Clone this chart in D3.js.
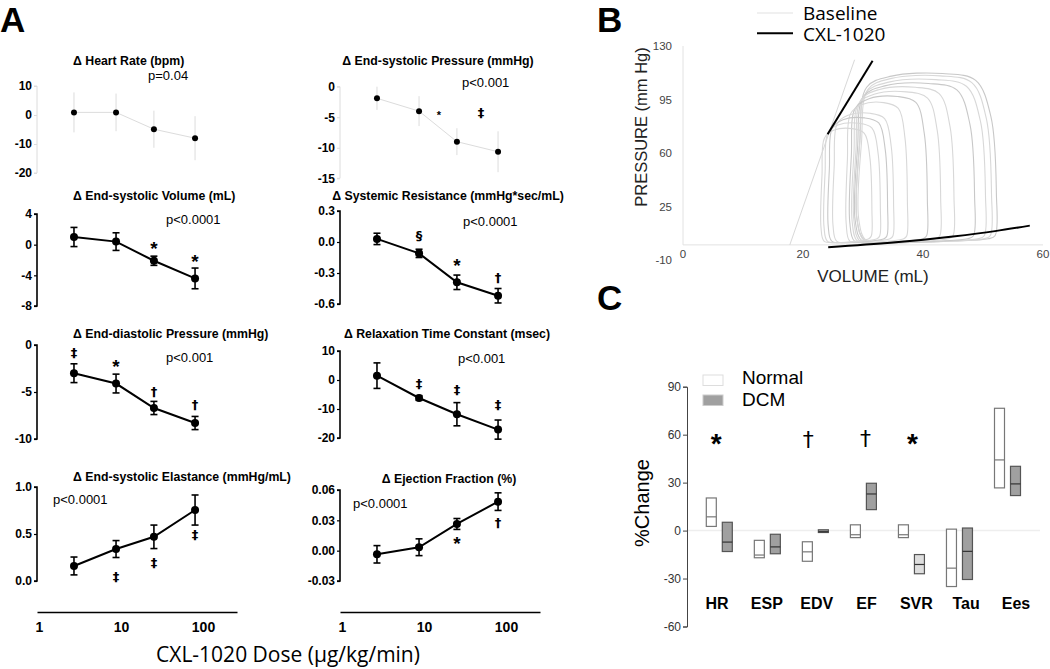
<!DOCTYPE html>
<html><head><meta charset="utf-8">
<script src="https://cdn.jsdelivr.net/npm/d3@7"></script>
<style>body{margin:0;background:#fff} svg{display:block}</style>
</head><body><svg id="c" width="1050" height="669"></svg>
<script>
// ---------- DATA: Panel A ----------
const doses = [2.67, 8.7, 25.2, 80];
const doseTicks = [1, 10, 100];
const hrMean = [0.9, 0.9, -4.9, -8.0],        hrErr = [6.9, 6.5, 6.4, 7.6];
const espMean = [-1.9, -4.0, -9.0, -10.65],   espErr = [1.9, 2.45, 2.2, 3.35];
const esvMean = [1.0, 0.4, -2.1, -4.4],       esvErr = [1.25, 1.15, 0.6, 1.35];
const svrMean = [0.03, -0.11, -0.39, -0.52],  svrErr = [0.055, 0.04, 0.07, 0.07];
const edpMean = [-3.0, -4.1, -6.7, -8.3],     edpErr = [1.0, 1.0, 0.7, 0.7];
const tauMean = [1.5, -6.2, -11.8, -17.1],    tauErr = [4.4, 0.8, 4.0, 3.3];
const eesMean = [0.16, 0.34, 0.47, 0.755],    eesErr = [0.095, 0.09, 0.125, 0.16];
const efMean = [-0.0036, 0.0034, 0.0264, 0.0485], efErr = [0.0086, 0.0083, 0.0054, 0.0087];

const hrTicks = [10, 0, -10, -20];
const espTicks = [0, -5, -10, -15];
const esvTicks = [4, 0, -4, -8];
const svrTicks = [0.3, 0, -0.3, -0.6];
const edpTicks = [0, -5, -10];
const tauTicks = [10, 0, -10, -20];
const eesTicks = [1, 0.5, 0];
const efTicks = [0.06, 0.03, 0, -0.03];

const espMarks = [{d: 15.2, v: -4.3, s: "*"}, {d: 49.6, v: -4.3, s: "‡"}];
const esvMarks = [{d: 25.2, v: 0.1, s: "*"}, {d: 80, v: -1.65, s: "*"}];
const svrMarks = [{d: 8.7, v: 0.058, s: "§"}, {d: 25.2, v: -0.19, s: "*"}, {d: 80, v: -0.35, s: "†"}];
const edpMarks = [{d: 2.67, v: -0.82, s: "‡"}, {d: 8.7, v: -1.78, s: "*"}, {d: 25.2, v: -4.97, s: "†"}, {d: 80, v: -6.38, s: "†"}];
const tauMarks = [{d: 8.7, v: -1.5, s: "‡"}, {d: 25.2, v: -3.45, s: "‡"}, {d: 80, v: -8.6, s: "‡"}];
const eesMarks = [{d: 8.7, v: 0.046, s: "‡"}, {d: 25.2, v: 0.195, s: "‡"}, {d: 80, v: 0.49, s: "‡"}];
const efMarks = [{d: 25.2, v: 0.0109, s: "*"}, {d: 80, v: 0.0274, s: "†"}];

// ---------- DATA: Panel B (PV loops) ----------
const loopESV  = [29.0, 29.3, 29.0, 28.7, 28.5, 28.2, 27.8, 27.2, 25.0, 24.2, 23.5, 23.0];
const loopEDV  = [52.0, 51.2, 50.2, 48.4, 45.0, 42.8, 40.6, 37.3, 35.0, 34.0, 32.8, 31.4];
const loopPeak = [112, 110.5, 108, 105.5, 103, 100, 97, 93, 86, 83, 79.5, 76];
const espvrCXL = [[24.1, 72.3], [31.6, 120.4]];
const espvrBase = [[17.8, 0], [28.6, 121]];
const edpvrCXL = [[24.2, -1.5], [35, 1.5], [45, 5.5], [52, 9], [57.8, 12.6]];
const volTicks = [0, 20, 40, 60];
const presTicks = [130, 95, 60, 25, -10];

// ---------- DATA: Panel C ----------
const cats = ["HR", "ESP", "EDV", "EF", "SVR", "Tau", "Ees"];
const normLo  = [2.6, -17.0, -19.2, -4.4, -4.4, -35.0, 26.7];
const normMed = [8.6, -15.3, -13.3, -2.6, -2.6, -23.5, 44.2];
const normHi  = [20.4, -6.1, -7.0, 3.6, 3.6, 0.9, 76.5];
const dcmLo   = [-13.1, -14.5, -1.2, 13.1, -27.0, -30.6, 21.9];
const dcmMed  = [-7.2, -10.2, -0.7, 22.9, -21.2, -13.0, 29.2];
const dcmHi   = [5.2, -2.3, 0.5, 29.6, -15.0, 1.6, 40.2];
const pctTicks = [90, 60, 30, 0, -30, -60];
const cMarks = [{c: "HR", v: 58.3, s: "*"}, {c: "EDV", v: 56.3, s: "†"}, {c: "EF", v: 57.3, s: "†"}, {c: "SVR", v: 58.3, s: "*"}];

// ---------- DRAW ----------
const svg = d3.select("#c");
const ARIAL = "'Liberation Sans', Arial, sans-serif";
const SEGOE = "'Open Sans', 'Liberation Sans', sans-serif";
const SYM = "'DejaVu Sans', sans-serif";
const fmtMinus = f => v => d3.format(f)(v).replace("\u2212", "-");

// panel letters
[["A", 0, 32], ["B", 597, 32], ["C", 597, 310]].forEach(([t, x, y]) =>
  svg.append("text").attr("x", x).attr("y", y).attr("font-family", ARIAL)
     .attr("font-weight", 700).attr("font-size", 35).text(t));

// Panel A
const colAxis = {L: 37, R: 340};
const xFor = col => d3.scaleLog().domain([Math.pow(10, -2/82), Math.pow(10, 198/82)]).range([colAxis[col], colAxis[col] + 200]);
const glyphOff = {"*": 0.57, "†": 0.3, "‡": 0.3, "§": 0.33};

const panels = [
  {t: "Heart Rate (bpm)", m: hrMean, e: hrErr, ticks: hrTicks, f: "d", dom: [-20, 10], rng: [173, 86], col: "L", light: true,
   tx: 73, ty: 61, anchor: "start", p: "p=0.04", px: 148, py: 75, marks: []},
  {t: "End-systolic Pressure (mmHg)", m: espMean, e: espErr, ticks: espTicks, f: "d", dom: [-15, 0], rng: [178.3, 86.7], col: "R", light: true,
   tx: 438, ty: 61, anchor: "middle", p: "p<0.001", px: 462, py: 82, marks: espMarks, small: true},
  {t: "End-systolic Volume (mL)", m: esvMean, e: esvErr, ticks: esvTicks, f: "d", dom: [-8, 4], rng: [306, 214], col: "L",
   tx: 73, ty: 196, anchor: "start", p: "p<0.0001", px: 166, py: 219, marks: esvMarks},
  {t: "Systemic Resistance (mmHg*sec/mL)", m: svrMean, e: svrErr, ticks: svrTicks, f: ".1f", dom: [-0.6, 0.3], rng: [304, 211], col: "R",
   tx: 448, ty: 196, anchor: "middle", p: "p<0.0001", px: 463, py: 221, marks: svrMarks},
  {t: "End-diastolic Pressure (mmHg)", m: edpMean, e: edpErr, ticks: edpTicks, f: "d", dom: [-10, 0], rng: [439, 345], col: "L",
   tx: 73, ty: 334, anchor: "start", p: "p<0.001", px: 166, py: 357, marks: edpMarks},
  {t: "Relaxation Time Constant (msec)", m: tauMean, e: tauErr, ticks: tauTicks, f: "d", dom: [-20, 10], rng: [438, 351], col: "R",
   tx: 447, ty: 334, anchor: "middle", p: "p<0.001", px: 458, py: 358, marks: tauMarks},
  {t: "End-systolic Elastance (mmHg/mL)", m: eesMean, e: eesErr, ticks: eesTicks, f: ".1f", dom: [0, 1], rng: [581, 487], col: "L",
   tx: 73, ty: 477, anchor: "start", p: "p<0.0001", px: 53, py: 499, marks: eesMarks},
  {t: "Ejection Fraction (%)", m: efMean, e: efErr, ticks: efTicks, f: ".2f", dom: [-0.03, 0.06], rng: [581, 490], col: "R",
   tx: 449, ty: 479, anchor: "middle", p: "p<0.0001", px: 353, py: 503, marks: efMarks},
];

panels.forEach(P => {
  const g = svg.append("g");
  const x = xFor(P.col);
  const y = d3.scaleLinear().domain(P.dom).range(P.rng);
  const ax = colAxis[P.col];
  const lineCol = P.light ? "#dcdcdc" : "#000";
  g.append("text").attr("x", P.tx).attr("y", P.ty).attr("dy", "0.35em").attr("text-anchor", P.anchor)
    .attr("font-family", ARIAL).attr("font-weight", 700).attr("font-size", 12.3).text("\u0394 " + P.t);
  const yAxis = d3.axisLeft(y).tickValues(P.ticks).tickSize(3).tickPadding(2).tickFormat(fmtMinus(P.f));
  const ag = g.append("g").attr("transform", `translate(${ax},0)`).call(yAxis);
  ag.select(".domain").attr("stroke", lineCol).attr("stroke-width", P.light ? 1 : 1.6).attr("d", `M-3,${P.rng[1]}H0V${P.rng[0]}H-3`);
  ag.selectAll(".tick line").attr("stroke", lineCol).attr("stroke-width", P.light ? 1 : 1.2);
  ag.selectAll(".tick text").attr("font-family", ARIAL).attr("font-weight", 700).attr("font-size", 12).attr("fill", "#000");
  g.append("text").attr("x", P.px).attr("y", P.py).attr("dy", "0.35em").attr("font-family", ARIAL)
    .attr("font-size", 13).text(P.p);
  const capW = P.light ? 0 : 3.5;
  const ew = P.light ? 1 : 1.6;
  doses.forEach((d, i) => {
    const cx = x(d), y1 = y(P.m[i] + P.e[i]), y2 = y(P.m[i] - P.e[i]);
    g.append("line").attr("x1", cx).attr("x2", cx).attr("y1", y1).attr("y2", y2).attr("stroke", lineCol).attr("stroke-width", ew);
    if (capW) {
      [y1, y2].forEach(yy => g.append("line").attr("x1", cx - capW).attr("x2", cx + capW).attr("y1", yy).attr("y2", yy)
        .attr("stroke", lineCol).attr("stroke-width", ew));
    }
  });
  g.append("path").datum(doses.map((d, i) => [d, P.m[i]]))
    .attr("d", d3.line().x(d => x(d[0])).y(d => y(d[1])))
    .attr("fill", "none").attr("stroke", lineCol).attr("stroke-width", P.light ? 1 : 2);
  g.selectAll("circle.pt").data(doses).enter().append("circle")
    .attr("cx", d => x(d)).attr("cy", (d, i) => y(P.m[i])).attr("r", P.light ? 3 : 4).attr("fill", "#000");
  P.marks.forEach(mk => {
    const star = mk.s === "*";
    const fs = star ? (P.small ? 11 : 19) : 13;
    g.append("text").attr("x", x(mk.d)).attr("y", y(mk.v) + glyphOff[mk.s] * fs).attr("text-anchor", "middle")
      .attr("font-family", star ? ARIAL : SYM).attr("font-weight", 700).attr("font-size", fs).attr("fill", "#000").text(mk.s);
  });
});

["L", "R"].forEach(col => {
  const x = xFor(col);
  const a = svg.append("g").attr("transform", "translate(0,612)")
    .call(d3.axisBottom(x).tickValues(doseTicks).tickSize(0).tickPadding(10).tickFormat(d3.format("d")));
  a.select(".domain").attr("stroke", "#000").attr("stroke-width", 1.5);
  a.selectAll(".tick text").attr("font-family", ARIAL).attr("font-weight", 700).attr("font-size", 14).attr("fill", "#000");
});
svg.append("text").attr("x", 288).attr("y", 655).attr("dy", "0.35em").attr("text-anchor", "middle")
  .attr("font-family", SEGOE).attr("font-size", 21).text("CXL-1020 Dose (\u03bcg/kg/min)");

// Panel B
const xV = d3.scaleLinear().domain([0, 60]).range([683, 1043]);
const yP = d3.scaleLinear().domain([-10, 130]).range([260.2, 46]);
const gB = svg.append("g");
gB.append("line").attr("x1", xV(0)).attr("x2", xV(0)).attr("y1", yP(130)).attr("y2", yP(0)).attr("stroke", "#e2e2e2");
gB.append("line").attr("x1", xV(0)).attr("x2", xV(60)).attr("y1", yP(0)).attr("y2", yP(0)).attr("stroke", "#e2e2e2");
presTicks.forEach(t => gB.append("text").attr("x", 672).attr("y", yP(t)).attr("dy", "0.35em").attr("text-anchor", "end")
  .attr("font-family", ARIAL).attr("font-size", 11.5).attr("fill", "#444").text(t));
volTicks.forEach(t => gB.append("text").attr("x", xV(t)).attr("y", 254).attr("dy", "0.35em").attr("text-anchor", "middle")
  .attr("font-family", ARIAL).attr("font-size", 11.5).attr("fill", "#444").text(t));
gB.append("text").attr("transform", "translate(641,127) rotate(-90)").attr("dy", "0.35em").attr("text-anchor", "middle")
  .attr("font-family", ARIAL).attr("font-size", 16.5).attr("fill", "#222").text("PRESSURE (mm Hg)");
gB.append("text").attr("x", 873).attr("y", 276).attr("dy", "0.35em").attr("text-anchor", "middle")
  .attr("font-family", ARIAL).attr("font-size", 17).attr("fill", "#222").text("VOLUME (mL)");
const loopLine = d3.line().x(d => xV(d[0])).y(d => yP(d[1])).curve(d3.curveCatmullRomClosed.alpha(0.5));
loopESV.forEach((a, i) => {
  const b = loopEDV[i], p = loopPeak[i], w = b - a;
  const pts = [
    [b, 6], [b + 0.01 * w, 0.3 * p], [b - 0.03 * w, 0.75 * p], [b - 0.14 * w, 0.96 * p], [b - 0.38 * w, p],
    [a + 0.25 * w, 0.985 * p], [a + 0.07 * w, 0.92 * p], [a + 0.02 * w, 0.6 * p], [a, 0.15 * p],
    [a + 0.06 * w, 2.5], [a + 0.3 * w, 1.5], [b - 0.3 * w, 2.5], [b - 0.05 * w, 4]
  ];
  gB.append("path").attr("d", loopLine(pts)).attr("fill", "none").attr("stroke", i % 3 === 0 ? "#c8c8c8" : "#d8d8d8").attr("stroke-width", 1.1);
});
const lin = d3.line().x(d => xV(d[0])).y(d => yP(d[1]));
gB.append("path").attr("d", lin(espvrBase)).attr("stroke", "#d8d8d8").attr("stroke-width", 1).attr("fill", "none");
gB.append("path").attr("d", lin(espvrCXL)).attr("stroke", "#000").attr("stroke-width", 2).attr("fill", "none");
gB.append("path").attr("d", lin.curve(d3.curveMonotoneX)(edpvrCXL)).attr("stroke", "#000").attr("stroke-width", 2).attr("fill", "none");
gB.append("line").attr("x1", 757).attr("x2", 793).attr("y1", 13).attr("y2", 13).attr("stroke", "#f0f0f0").attr("stroke-width", 2);
gB.append("line").attr("x1", 757).attr("x2", 793).attr("y1", 33.3).attr("y2", 33.3).attr("stroke", "#000").attr("stroke-width", 2);
gB.append("text").attr("x", 803).attr("y", 13).attr("dy", "0.35em").attr("font-family", SEGOE).attr("font-size", 19).text("Baseline");
gB.append("text").attr("x", 803).attr("y", 34).attr("dy", "0.35em").attr("font-family", SEGOE).attr("font-size", 19).text("CXL-1020");

// Panel C
const gC = svg.append("g");
const yC = d3.scaleLinear().domain([-60, 90]).range([626.5, 386.7]);
const xC = d3.scalePoint().domain(cats).range([719.3, 1007.5]);
const xLab = d3.scalePoint().domain(cats).range([717, 1016]);
const cAxis = gC.append("g").attr("transform", "translate(687,0)")
  .call(d3.axisLeft(yC).tickValues(pctTicks).tickSize(4).tickPadding(2).tickFormat(fmtMinus("d")));
cAxis.select(".domain").attr("stroke", "#444");
cAxis.selectAll(".tick line").attr("stroke", "#444");
cAxis.selectAll(".tick text").attr("font-family", ARIAL).attr("font-size", 12).attr("fill", "#333");
gC.append("line").attr("x1", 688).attr("x2", 1040).attr("y1", yC(0)).attr("y2", yC(0)).attr("stroke", "#eeeeee").attr("stroke-width", 1.5);
gC.append("text").attr("transform", "translate(642,503) rotate(-90)").attr("dy", "0.35em").attr("text-anchor", "middle")
  .attr("font-family", ARIAL).attr("font-size", 20).text("%Change");
const boxW = 10;
const dcmShade = {SVR: "#dedede"};
cats.forEach((c, i) => {
  const groups = [
    {x: xC(c) - 8, lo: normLo[i], med: normMed[i], hi: normHi[i], fill: "#fff", stroke: "#777", med_c: "#777"},
    {x: xC(c) + 8, lo: dcmLo[i], med: dcmMed[i], hi: dcmHi[i], fill: dcmShade[c] || "#a0a0a0", stroke: "#555", med_c: "#333"}
  ];
  groups.forEach(b => {
    gC.append("rect").attr("x", b.x - boxW / 2).attr("width", boxW).attr("y", yC(b.hi)).attr("height", yC(b.lo) - yC(b.hi))
      .attr("fill", b.fill).attr("stroke", b.stroke).attr("stroke-width", 1.2);
    gC.append("line").attr("x1", b.x - boxW / 2).attr("x2", b.x + boxW / 2).attr("y1", yC(b.med)).attr("y2", yC(b.med))
      .attr("stroke", b.med_c).attr("stroke-width", 1.2);
  });
  gC.append("text").attr("x", xLab(c)).attr("y", 603).attr("dy", "0.35em").attr("text-anchor", "middle")
    .attr("font-family", ARIAL).attr("font-weight", 700).attr("font-size", 16).text(c);
});
const cMarkDx = {HR: -3, EDV: -7, EF: 2, SVR: 1};
cMarks.forEach(mk => {
  const star = mk.s === "*";
  const fs = star ? 28 : 22;
  gC.append("text").attr("x", xC(mk.c) + cMarkDx[mk.c]).attr("y", yC(mk.v) + glyphOff[mk.s] * fs).attr("text-anchor", "middle")
    .attr("font-family", star ? ARIAL : SYM).attr("font-weight", star ? 700 : 400).attr("font-size", fs).attr("fill", "#000").text(mk.s);
});
gC.append("rect").attr("x", 703).attr("y", 375).attr("width", 20).attr("height", 10.5).attr("fill", "#fff").attr("stroke", "#ddd");
gC.append("rect").attr("x", 703).attr("y", 395).attr("width", 20).attr("height", 10.5).attr("fill", "#a0a0a0").attr("stroke", "#ccc");
gC.append("text").attr("x", 742).attr("y", 377).attr("dy", "0.35em").attr("font-family", ARIAL).attr("font-size", 19).text("Normal");
gC.append("text").attr("x", 742).attr("y", 399.5).attr("dy", "0.35em").attr("font-family", ARIAL).attr("font-size", 19).text("DCM");
</script></body></html>
